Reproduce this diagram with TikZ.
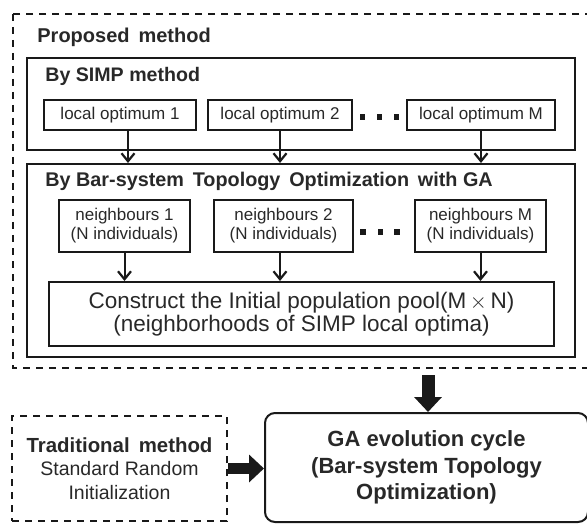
\documentclass[tikz,border=0pt]{standalone}
\usepackage{fontspec}
\setmainfont{Liberation Sans}
\usetikzlibrary{arrows.meta,calc}
\definecolor{txt}{RGB}{40,40,40}
\definecolor{ln}{RGB}{25,25,25}
\begin{document}
\begin{tikzpicture}[x=0.5pt,y=-0.5pt,
  box/.style={draw=ln,line width=1pt,inner sep=0pt,text=txt,align=center},
  dbox/.style={box,dashed,dash pattern=on 3.5pt off 3pt},
  ttl/.style={anchor=base west,inner sep=0pt,text=txt,font=\bfseries\fontsize{9.9}{12}\selectfont},
  small/.style={font=\fontsize{8.5}{9.5}\selectfont},
  thin/.style={draw=ln,line width=1pt,-{Straight Barb[length=4pt,width=6.5pt,line width=1.1pt]}},
  dot/.style={fill=ln,inner sep=0pt,minimum size=2.8pt},
  bigarr/.style={draw=ln,-{Triangle[length=7.5pt,width=13.5pt]}}
]
\useasboundingbox (0,0) rectangle (587,523);
\clip (0,0) rectangle (587,523);

% outer dashed region
\draw[draw=ln,line width=1pt,dash pattern=on 3.5pt off 3pt] (13,14) rectangle (592,368);
\node[ttl,font=\bfseries\fontsize{10}{12}\selectfont] (pm) at (37,43) {Proposed\ \,method};

% SIMP block
\node[box,minimum width=274pt,minimum height=46pt] (simp) at (301,104) {};
\node[ttl,font=\bfseries\fontsize{9.8}{12}\selectfont] (simpt) at (45,82) {By SIMP method};
\node[box,small,minimum width=76pt,minimum height=15pt] (lo1) at (120,115) {local optimum 1};
\node[box,small,minimum width=72pt,minimum height=15pt] (lo2) at (280,115) {local optimum 2};
\node[box,small,minimum width=74pt,minimum height=15pt] (loM) at (481,115) {local optimum M};
\node[dot] (d1) at (362.5,117) {};
\node[dot] (d2) at (379.5,117) {};
\node[dot] (d3) at (396.5,117) {};

% Bar-system block
\node[box,minimum width=274pt,minimum height=96.5pt] (bar) at (301,260.5) {};
\node[ttl] (bart) at (45,187) {By Bar-system\ \,Topology\ \,Optimization\ \,with GA};
\node[box,small,minimum width=65.5pt,minimum height=26pt] (n1) at (124.5,226) {neighbours 1\\(N individuals)};
\node[box,small,minimum width=69.5pt,minimum height=26pt] (n2) at (283.5,226) {neighbours 2\\(N individuals)};
\node[box,small,minimum width=65.5pt,minimum height=26pt] (nM) at (480.5,226) {neighbours M\\(N individuals)};
\node[dot] (e1) at (363,232) {};
\node[dot] (e2) at (380.5,232) {};
\node[dot] (e3) at (397,232) {};
\node[box,font=\fontsize{11.25}{11.5}\selectfont,minimum width=252.5pt,minimum height=32pt] (pool) at (301.5,314)
  {Construct the Initial population pool(M$\,\times\,$N)\\(neighborhoods of SIMP local optima)};

% thin arrows
\draw[thin] ([xshift=4pt]lo1.south) -- ([xshift=4pt]lo1.south |- bar.north);
\draw[thin] (lo2.south) -- (lo2.south |- bar.north);
\draw[thin] (loM.south) -- (loM.south |- bar.north);
\draw[thin] (n1.south) -- (n1.south |- pool.north);
\draw[thin] ([xshift=-1.75pt]n2.south) -- ([xshift=-1.75pt]n2.south |- pool.north);
\draw[thin] (nM.south) -- (nM.south |- pool.north);

% bottom part
\node[box,rounded corners=5pt,minimum width=161.5pt,minimum height=54.5pt,
  font=\bfseries\fontsize{11}{13.25}\selectfont] (ga) at (426.5,467.5)
  {GA evolution cycle\\(Bar-system Topology\\Optimization)};
\node[dbox,minimum width=107.5pt,minimum height=52.5pt] (trad) at (119.5,468.5)
  {{\bfseries\fontsize{10.2}{12.25}\selectfont Traditional\ \,method}\\[-0.3pt]
   {\fontsize{9.75}{12.25}\selectfont Standard\ Random}\\
   {\fontsize{9.75}{12.25}\selectfont Initialization}};

\coordinate (dstart) at (428,375);
\draw[bigarr,line width=6.5pt] (dstart) -- (dstart |- ga.north);
\draw[bigarr,line width=5.5pt] (trad.east) -- (trad.east -| ga.west);
\end{tikzpicture}
\end{document}
